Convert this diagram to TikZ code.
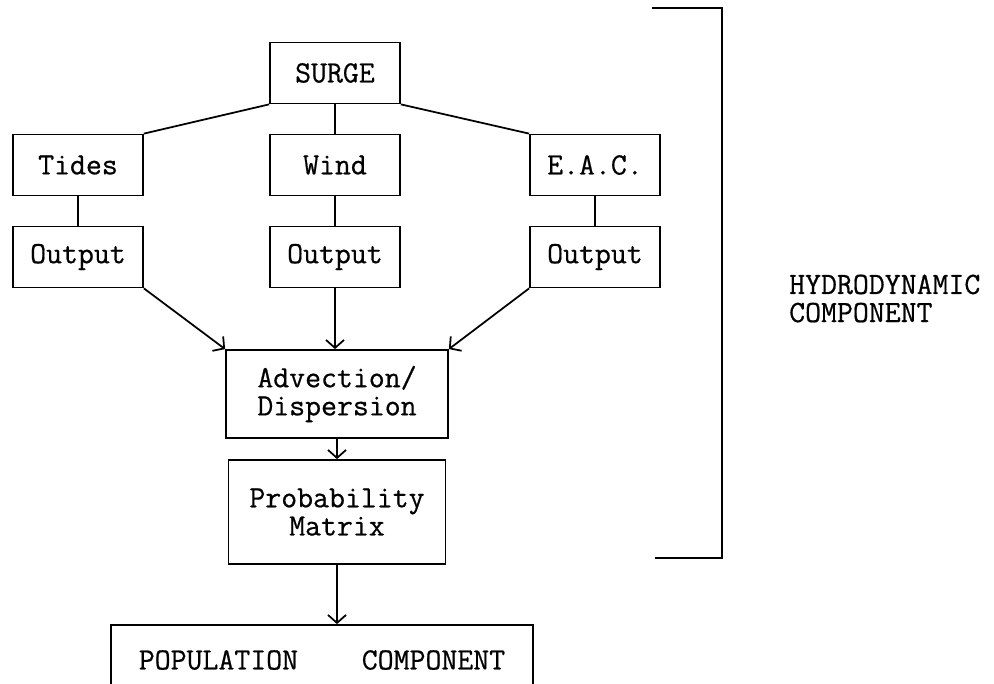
\documentclass[tikz,border=0pt]{standalone}
\usepackage{fontspec}
\newfontfamily\typewriter{Latin Modern Mono}[FakeBold=0.6]
\usepackage{tikz}
\usetikzlibrary{arrows.meta,shapes}
\tikzstyle{brick} = [rectangle, minimum width = 2.6cm, minimum height = 1.22cm, text centered, draw = black, line width = 1pt]
\tikzstyle{flow} = [-{Straight Barb[length=1.6mm,width=3.6mm]}, line width = 1pt]

\begin{document}
\begin{tikzpicture}[node distance = 1.84cm, font = \typewriter\fontsize{17.6}{16}\selectfont]
        \useasboundingbox (-6.70,1.46) rectangle (13.18,-12.22);
        \node (surge)    [brick] {SURGE};
        \node (wind)     [brick,below of=surge] {Wind};
        \node (tides)    [brick,left of=wind,node distance=5.14cm] {Tides};
        \node (eac)      [brick,right of=wind,node distance=5.2cm] {E.A.C.};
        \node (windout)  [brick,below of=wind] {Output};
        \node (tidesout) [brick,below of=tides] {Output};
        \node (eacout)   [brick,below of=eac] {Output};
        \node (adv)  [brick,below of=windout,node distance=2.74cm,xshift=0.04cm,minimum width=4.44cm,minimum height=1.76cm,align=center] {Advection/\\Dispersion};
        \node (prob) [brick,below of=adv,node distance=2.36cm,minimum width=4.34cm,minimum height=2.08cm,align=center] {Probability\\Matrix};
        \node (pop)  [brick,below of=prob,node distance=2.96cm,xshift=-0.3cm,minimum width=8.44cm,minimum height=1.4cm] {POPULATION\ \ \ \ COMPONENT};
        \node (hydro) [anchor=west,align=left] at (8.96,-4.51) {HYDRODYNAMIC\\COMPONENT};
        \draw [line width=1pt] (surge.south west) -- (tides.north east);
        \draw [line width=1pt] (surge) -- (wind);
        \draw [line width=1pt] (surge.south east) -- (eac.north west);
        \draw [line width=1pt] (tides) -- (tidesout);
        \draw [line width=1pt] (wind) -- (windout);
        \draw [line width=1pt] (eac) -- (eacout);
        \draw [flow] (tidesout.south east) -- (adv.north west);
        \draw [flow] (windout) -- (windout |- adv.north);
        \draw [flow] (eacout.south west) -- (adv.north east);
        \draw [flow] (adv) -- (prob);
        \draw [flow] (prob) -- (prob |- pop.north);
        % bracket
        \draw [line width=1pt] (6.34,1.3) -- (7.74,1.3) -- (7.74,-9.7) -- (6.4,-9.7);
    \end{tikzpicture}
\end{document}
